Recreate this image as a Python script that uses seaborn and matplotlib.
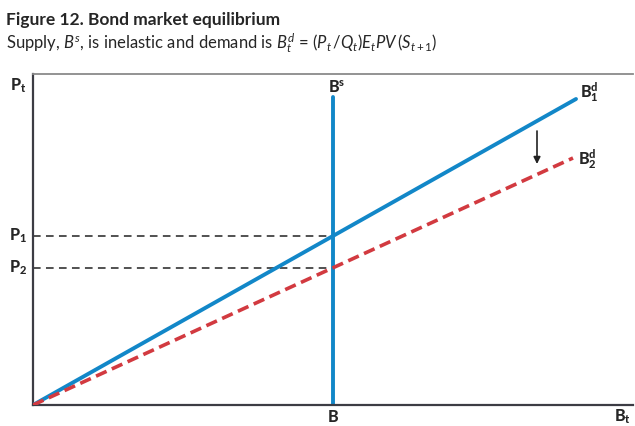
import matplotlib
matplotlib.use("Agg")
import matplotlib.pyplot as plt
import seaborn as sns
import pandas as pd

# chart values (arbitrary units)
bd1_x = [0, 543]
bd1_y = [0, 306]
bd2_x = [0, 540]
bd2_y = [0, 247]
bs_x = [300, 300]
bs_y = [0, 308]
p_levels = [169, 137]
p_labels = ["P_1", "P_2"]
b_level = 300
x_max, y_max = 600, 331

blue = "#1287c8"
red = "#d23a40"

sns.set_style("white")
plt.rcParams["font.family"] = ["Lato", "DejaVu Sans"]
plt.rcParams["mathtext.fontset"] = "custom"
plt.rcParams["mathtext.rm"] = "Lato"
plt.rcParams["mathtext.it"] = "Lato:italic"
plt.rcParams["mathtext.bf"] = "Lato:black"

fig = plt.figure(figsize=(6.35, 4.26), dpi=100)
ax = fig.add_axes([33 / 635, 21 / 426, 600 / 635, 331 / 426])

d1 = pd.DataFrame({"x": bd1_x, "y": bd1_y})
d2 = pd.DataFrame({"x": bd2_x, "y": bd2_y})
ds = pd.DataFrame({"x": bs_x, "y": bs_y})

# reference dashes for P1, P2
for p in p_levels:
    ax.plot([0, b_level], [p, p], color="#222222", lw=1.1, ls=(0, (5, 3.5)), zorder=1)

line_kw = dict(x="x", y="y", estimator=None, sort=False, ax=ax)
sns.lineplot(data=ds, color=blue, lw=2.8, zorder=2, **line_kw)
sns.lineplot(data=d1, color=blue, lw=2.8, zorder=3, **line_kw)
sns.lineplot(data=d2, color=red, lw=2.6, zorder=4, linestyle=(0, (3.2, 1.6)), **line_kw)

ax.set_xlim(0, x_max)
ax.set_ylim(0, y_max)
ax.set_xticks([])
ax.set_yticks([])
ax.set_xlabel("")
ax.set_ylabel("")
ax.spines["right"].set_visible(False)
ax.spines["top"].set_color("#8a8a8a")
ax.spines["top"].set_linewidth(1.3)
for s in ["left", "bottom"]:
    ax.spines[s].set_color("#3c3c44")
    ax.spines[s].set_linewidth(1.6)
ax.patch.set_visible(False)

# shift arrow
ax.annotate("", xy=(504, 241), xytext=(504, 274),
            arrowprops=dict(arrowstyle="-|>", color="#222222", lw=1.2,
                            mutation_scale=10, shrinkA=0, shrinkB=0))

lab = dict(fontsize=11.5, ha="center", va="center", clip_on=False)
ax.text(-15, 319, r"$\mathbf{P}_{\mathbf{t}}$", **lab)
for p, name in zip(p_levels, p_labels):
    ax.text(-15, p, r"$\mathbf{%s}_{\mathbf{%s}}$" % tuple(name.split("_")), **lab)
ax.text(304, 318, r"$\mathbf{B}^{\mathbf{s}}$", **lab)
ax.text(556, 313, r"$\mathbf{B}^{\mathbf{d}}_{\mathbf{1}}$", **lab)
ax.text(554, 246, r"$\mathbf{B}^{\mathbf{d}}_{\mathbf{2}}$", **lab)
ax.text(b_level, -12, r"$\mathbf{B}$", **lab)
ax.text(589, -12, r"$\mathbf{B}_{\mathbf{t}}$", **lab)

fig.text(6 / 635, 1 - 20 / 426, "Figure 12. Bond market equilibrium",
         fontsize=12.5, fontweight="bold", ha="left", va="center")
fig.text(6 / 635, 1 - 43 / 426,
         r"Supply, $B^s$, is inelastic and demand is $B^d_t$ = $(P_t\,/Q_t)E_tPV\,(S_{t+1})$",
         fontsize=12, ha="left", va="center")

fig.savefig("out.png", dpi=100)
